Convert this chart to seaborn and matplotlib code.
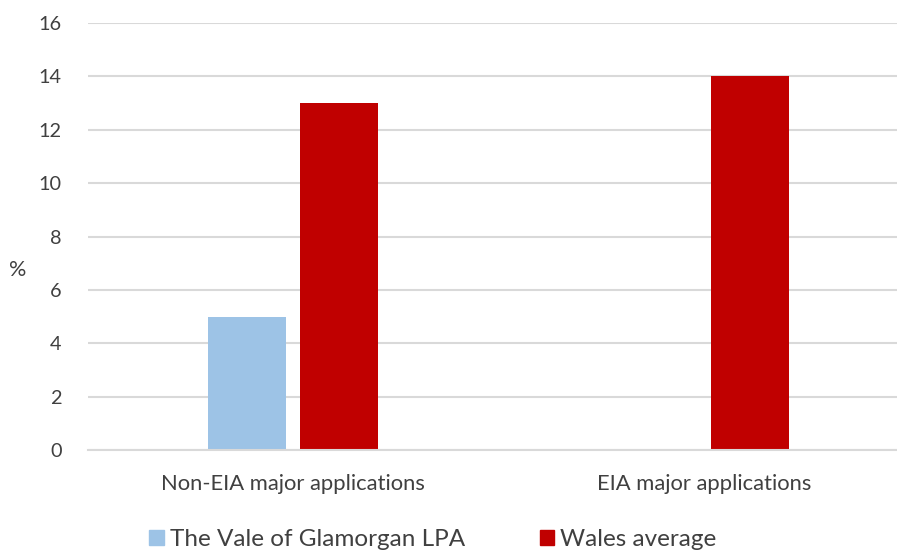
import pandas as pd
import matplotlib.pyplot as plt
import seaborn as sns

categories = ['Non-EIA major applications', 'EIA major applications']
series = ['The Vale of Glamorgan LPA', 'Wales average']
vale = [5, 0]
wales = [13, 14]
colors = ['#9DC3E6', '#C00000']

df = pd.DataFrame({
    'category': categories * 2,
    'series': [series[0]] * 2 + [series[1]] * 2,
    'value': vale + wales,
})

sns.set_theme(style='white')
plt.rcParams['font.family'] = ['Lato', 'DejaVu Sans']
text_col = '#404040'

fig = plt.figure(figsize=(8.97, 5.5), dpi=100)
ax = fig.add_axes([88 / 897, 1 - 450 / 550, 1 - 88 / 897, (450 - 23) / 550])

sns.barplot(data=df, x='category', y='value', hue='series', order=categories,
            hue_order=series, palette=colors, width=0.448, gap=0.152,
            saturation=1, linewidth=0, ax=ax, legend=False)

ax.set_ylim(0, 16)
ax.set_yticks(range(0, 17, 2))
ax.set_xlim(-0.5, 1.47)
ax.yaxis.grid(True, color='#D9D9D9', linewidth=1.5)
ax.set_axisbelow(True)
for s in ['top', 'right', 'left']:
    ax.spines[s].set_visible(False)
ax.spines['bottom'].set_color('#D9D9D9')
ax.spines['bottom'].set_linewidth(1.5)
ax.tick_params(axis='y', length=0, pad=19, labelsize=14.3, labelcolor=text_col)
ax.tick_params(axis='x', length=0, pad=17, labelsize=15.8, labelcolor=text_col)
ax.set_xlabel('')
ax.set_ylabel('')

fig.text(18 / 897, 1 - 270 / 550, '%', ha='center', va='center', fontsize=15.5, color=text_col)

handles = [plt.Rectangle((0, 0), 1, 1, color=c) for c in colors]
fig.legend(handles, series, loc='center', bbox_to_anchor=(433 / 897, 1 - 540 / 550),
           ncol=2, frameon=False, fontsize=17.5, handlelength=0.58, handleheight=0.58,
           handletextpad=0.25, columnspacing=3.1, labelcolor=text_col,
           borderpad=0, borderaxespad=0)

fig.savefig('out.png', dpi=100)
